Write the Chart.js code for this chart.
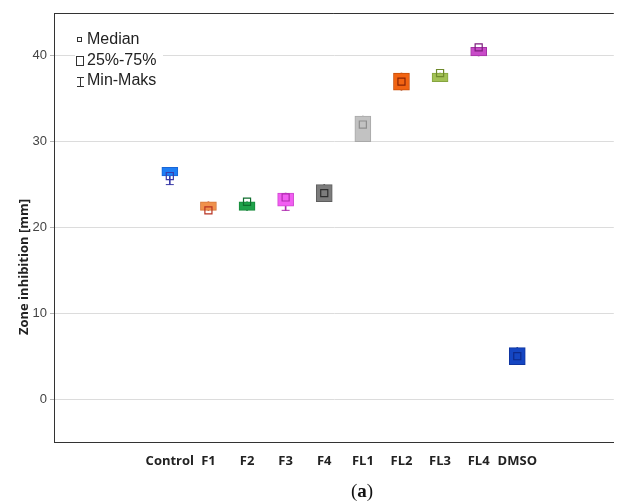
<!DOCTYPE html>
<html>
<head>
<meta charset="utf-8">
<script src="https://cdn.jsdelivr.net/npm/chart.js@4.4.0/dist/chart.umd.min.js"></script>
<style>
  html, body { margin: 0; padding: 0; background: #ffffff; }
  #wrap { width: 620px; height: 503px; position: relative; }
</style>
</head>
<body>
<div id="wrap"><canvas id="chart"></canvas></div>
<script>
// Groups and box-plot statistics (zone of inhibition, mm)
const groups     = ['Control', 'F1', 'F2', 'F3', 'F4', 'FL1', 'FL2', 'FL3', 'FL4', 'DMSO'];
const minVals    = [25, 22, 22, 22,   23, 30, 36, 37, 40, 4];
const q1Vals     = [26, 22, 22, 22.5, 23, 30, 36, 37, 40, 4];
const medianVals = [26, 22, 23, 23.5, 24, 32, 37, 38, 41, 5];
const q3Vals     = [27, 23, 23, 24,   25, 33, 38, 38, 41, 6];
const maxVals    = [27, 23, 23, 24,   25, 33, 38, 38, 41, 6];
const yTicks     = [0, 10, 20, 30, 40];

const legendLabels = ['Median', '25%-75%', 'Min-Maks'];
const axisTitle = 'Zone inhibition [mm]';
const panelLetter = 'a';

// Box fill, box outline and median/whisker colours per group
const boxFill  = ['#1f7ef4', '#f0914c', '#1fa24a', '#f25ef2', '#7c7c7c', '#c2c2c2', '#f26412', '#a2c155', '#c84bc8', '#1546c2'];
const boxEdge  = ['#1a66d6', '#d5773a', '#178a3c', '#d048d0', '#5e5e5e', '#a9a9a9', '#c94f08', '#86a53f', '#a434a4', '#0f35a0'];
const markCol  = ['#3b3ba8', '#b83222', '#0f6e2e', '#b02cb0', '#2e2e2e', '#8e8e8e', '#8a2404', '#6f8a2c', '#7e1e7e', '#0d2a8c'];

const pos = i => i + 1;

const boxData = groups.map((g, i) => ({ x: pos(i), y: [q1Vals[i], q3Vals[i]] }));
const whiskerData = groups.map((g, i) => ({ x: pos(i), y: [minVals[i], maxVals[i]] }));
const capData = [];
groups.forEach((g, i) => {
  if (minVals[i] < q1Vals[i]) capData.push({ x: pos(i), y: minVals[i] });
  if (maxVals[i] > q3Vals[i]) capData.push({ x: pos(i), y: maxVals[i] });
});
const medianData = groups.map((g, i) => ({ x: pos(i), y: medianVals[i] }));

// Frame top edge, axis title, inset legend and panel letter
const decorations = {
  id: 'decorations',
  afterDraw(chart) {
    const { ctx, chartArea: a } = chart;
    ctx.save();

    ctx.strokeStyle = '#333333';
    ctx.lineWidth = 1;
    ctx.beginPath();
    ctx.moveTo(a.left, a.top + 0.5);
    ctx.lineTo(a.right, a.top + 0.5);
    ctx.stroke();

    // rotated y axis title
    ctx.save();
    ctx.translate(24, 267);
    ctx.rotate(-Math.PI / 2);
    ctx.font = 'bold 13px "Open Sans"';
    ctx.fillStyle = '#222222';
    ctx.textAlign = 'center';
    ctx.textBaseline = 'middle';
    ctx.fillText(axisTitle, 0, 0);
    ctx.restore();

    // legend
    ctx.fillStyle = '#ffffff';
    ctx.fillRect(75, 28, 88, 62);
    ctx.strokeStyle = '#333333';
    ctx.lineWidth = 1;
    ctx.strokeRect(77.5, 37.5, 4, 4);
    ctx.strokeRect(76.5, 56.5, 7, 9);
    ctx.beginPath();
    ctx.moveTo(80.5, 77.5); ctx.lineTo(80.5, 87);
    ctx.moveTo(77, 77.5);   ctx.lineTo(84, 77.5);
    ctx.moveTo(77, 86.5);   ctx.lineTo(84, 86.5);
    ctx.stroke();
    ctx.font = '16px "Liberation Sans"';
    ctx.fillStyle = '#222222';
    ctx.textAlign = 'left';
    ctx.textBaseline = 'middle';
    ctx.fillText(legendLabels[0], 87, 40);
    ctx.fillText(legendLabels[1], 87, 61);
    ctx.fillText(legendLabels[2], 87, 81);

    // panel letter "(a)"
    const serif = '"Liberation Serif", "DejaVu Serif", serif';
    ctx.textBaseline = 'middle';
    ctx.font = '19px ' + serif;
    const wp = ctx.measureText('(').width;
    const wc = ctx.measureText(')').width;
    ctx.font = 'bold 19px ' + serif;
    const wa = ctx.measureText(panelLetter).width;
    let x = 362 - (wp + wa + wc) / 2;
    const y = 492;
    ctx.fillStyle = '#111111';
    ctx.font = '19px ' + serif;
    ctx.fillText('(', x, y); x += wp;
    ctx.font = 'bold 19px ' + serif;
    ctx.fillText(panelLetter, x, y); x += wa;
    ctx.font = '19px ' + serif;
    ctx.fillText(')', x, y);

    ctx.restore();
  }
};

new Chart(document.getElementById('chart'), {
  type: 'bar',
  data: {
    datasets: [
      {
        type: 'bar',
        data: whiskerData,
        backgroundColor: markCol,
        borderWidth: 0,
        barThickness: 1,
        grouped: false,
        order: 4
      },
      {
        type: 'bar',
        data: boxData,
        backgroundColor: boxFill,
        borderColor: boxEdge,
        borderWidth: 1,
        borderSkipped: false,
        barThickness: 16,
        grouped: false,
        order: 3
      },
      {
        type: 'line',
        data: capData,
        showLine: false,
        pointStyle: 'line',
        pointRadius: 4,
        pointBorderWidth: 1,
        pointBorderColor: ctx => markCol[ctx.raw ? ctx.raw.x - 1 : 0],
        order: 2
      },
      {
        type: 'line',
        data: medianData,
        showLine: false,
        pointStyle: 'rect',
        pointRadius: 5,
        pointBackgroundColor: 'rgba(0,0,0,0)',
        pointBorderColor: markCol,
        pointBorderWidth: 1.2,
        order: 1
      }
    ]
  },
  options: {
    responsive: true,
    maintainAspectRatio: false,
    animation: false,
    events: [],
    layout: { padding: { top: 13, right: 6, left: 0, bottom: 0 } },
    plugins: { legend: { display: false }, tooltip: { enabled: false } },
    scales: {
      x: {
        type: 'linear',
        min: -2,
        max: 12.5,
        offset: false,
        grid: { display: false, drawTicks: false },
        border: { display: true, color: '#333333', width: 1 },
        afterBuildTicks: s => { s.ticks = groups.map((g, i) => ({ value: pos(i) })); },
        afterFit: s => { s.height = 61; },
        ticks: {
          autoSkip: false,
          maxRotation: 0,
          padding: 11,
          color: '#222222',
          font: { family: '"Open Sans"', size: 13, weight: 'bold' },
          callback: v => groups[v - 1]
        }
      },
      y: {
        min: -5,
        max: 45,
        grid: { color: '#dcdcdc', lineWidth: 1, tickLength: 4, tickColor: '#b5b5b5' },
        border: { display: true, color: '#333333', width: 1 },
        afterBuildTicks: s => { s.ticks = yTicks.map(v => ({ value: v })); },
        afterFit: s => { s.width = 54; },
        ticks: {
          padding: 3,
          color: '#444444',
          font: { family: '"Liberation Sans"', size: 13 }
        }
      }
    }
  },
  plugins: [decorations]
});
</script>
</body>
</html>
